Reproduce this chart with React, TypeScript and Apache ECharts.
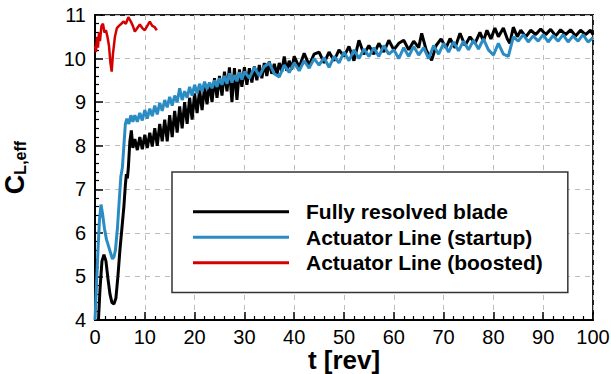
import React, { useEffect, useRef } from "react";
import * as echarts from "echarts";

const seriesNames = ["Fully resolved blade", "Actuator Line (startup)", "Actuator Line (boosted)"];
const seriesColors = ["#000000", "#2b8cc4", "#d40000"];

const xTicks = { min: 0, max: 100, interval: 10 };
const yTicks = { min: 4, max: 11, interval: 1 };

const blackData: [number, number][] = [
  [0.7, 4.0], [1.0, 4.7], [1.4, 5.35], [1.8, 5.5], [2.2, 5.35], [2.6, 4.95], [3.0, 4.6], [3.4, 4.4],
  [3.8, 4.37], [4.2, 4.5], [4.6, 5.0], [5.0, 5.6], [5.4, 6.1], [5.8, 6.6], [6.1, 7.1], [6.3, 7.35],
  [6.5, 7.25], [6.7, 7.5], [7.0, 8.1], [7.3, 8.35], [7.6, 7.95],
  [8.0, 8.15], [8.5, 7.9], [9.0, 8.2], [9.5, 7.92], [10.0, 8.25], [10.5, 7.95], [11.0, 8.3], [11.5, 7.98],
  [12.0, 8.4], [12.5, 8.0], [13.0, 8.5], [13.5, 8.1], [14.0, 8.6], [14.5, 8.1], [15.0, 8.7], [15.5, 8.2],
  [16.0, 8.8], [16.5, 8.3], [17.0, 8.9], [17.5, 8.4], [18.0, 9.0], [18.5, 8.5], [19.0, 9.1], [19.5, 8.6],
  [20.0, 9.2], [20.5, 8.75], [21.0, 9.28], [21.5, 8.82], [22.0, 9.35], [22.5, 8.95], [23.0, 9.45], [23.5, 9.0],
  [24.0, 9.55], [24.5, 9.1], [25.0, 9.6], [25.5, 9.15], [26.0, 9.7], [26.5, 9.25], [27.0, 9.8], [27.5, 9.0],
  [28.0, 9.78], [28.5, 9.05], [29.0, 9.75], [29.5, 9.35], [30.0, 9.8], [30.5, 9.4], [31.0, 9.78], [31.5, 9.45],
  [32.0, 9.82], [32.5, 9.5], [33.0, 9.85], [33.5, 9.55], [34.0, 9.9], [34.5, 9.6], [35.0, 9.93], [35.5, 9.65],
  [36.0, 9.88], [36.5, 9.62], [37.0, 9.9], [37.5, 9.7], [38.0, 10.05], [38.5, 9.72], [39.0, 9.95], [39.5, 9.75],
  [40.0, 10.05], [41.0, 9.8], [42.0, 10.12], [43.0, 9.85], [44.0, 10.1], [45.0, 10.15], [46.0, 9.9], [47.0, 10.15],
  [48.0, 9.95], [49.0, 10.2], [50.0, 10.05], [51.0, 10.28], [52.0, 9.95], [53.0, 10.42], [54.0, 10.1], [55.0, 10.3],
  [56.0, 10.1], [57.0, 10.35], [58.0, 10.15], [59.0, 10.42], [60.0, 10.2], [61.0, 10.35], [62.0, 10.42], [63.0, 10.2],
  [64.0, 10.4], [65.0, 10.25], [65.6, 10.58], [66.5, 10.2], [67.6, 9.96], [68.5, 10.3], [69.5, 10.45], [70.5, 10.25],
  [71.3, 10.46], [72.3, 10.25], [73.3, 10.58], [74.3, 10.3], [75.3, 10.5], [76.3, 10.35], [77.3, 10.6], [78.0, 10.4],
  [78.7, 10.65], [79.5, 10.45], [80.3, 10.7], [81.0, 10.5], [82.0, 10.7], [82.8, 10.45], [83.3, 10.35], [84.0, 10.72],
  [84.8, 10.5], [85.5, 10.65], [86.5, 10.5], [87.5, 10.65], [88.5, 10.55], [89.5, 10.68], [90.5, 10.55], [91.5, 10.67],
  [92.5, 10.52], [93.5, 10.66], [94.5, 10.55], [95.5, 10.66], [96.5, 10.52], [97.5, 10.65], [98.5, 10.55], [99.5, 10.65],
  [100.0, 10.55],
];

const blueData: [number, number][] = [
  [0.0, 4.0], [0.3, 4.8], [0.6, 5.6], [0.9, 6.3], [1.2, 6.65], [1.5, 6.45], [1.9, 6.1], [2.3, 5.85],
  [2.7, 5.7], [3.1, 5.55], [3.5, 5.4], [3.8, 5.45], [4.1, 5.6], [4.5, 6.1], [4.9, 6.8], [5.2, 7.3],
  [5.5, 7.5], [5.8, 8.0], [6.1, 8.5], [6.4, 8.62], [6.8, 8.5], [7.2, 8.7], [7.6, 8.55],
  [8.0, 8.7], [8.5, 8.55], [9.0, 8.75], [9.5, 8.58], [10.0, 8.82], [10.5, 8.62], [11.0, 8.85], [11.5, 8.68],
  [12.0, 8.92], [12.5, 8.72], [13.0, 8.98], [13.5, 8.8], [14.0, 9.05], [14.5, 8.88], [15.0, 9.12], [15.5, 8.92],
  [16.0, 9.15], [16.5, 9.0], [17.0, 9.32], [17.5, 9.05], [18.0, 9.25], [18.5, 9.1], [19.0, 9.35], [19.5, 9.15],
  [20.0, 9.4], [20.5, 9.2], [21.0, 9.42], [21.5, 9.25], [22.0, 9.47], [22.5, 9.3], [23.0, 9.45], [23.5, 9.32],
  [24.0, 9.5], [24.5, 9.35], [25.0, 9.55], [25.5, 9.4], [26.0, 9.6], [26.5, 9.42], [27.0, 9.66], [27.5, 9.45],
  [28.0, 9.62], [28.5, 9.48], [29.0, 9.68], [29.5, 9.52], [30.0, 9.7],
  [31, 9.55], [32, 9.8], [33, 9.6], [34, 9.82], [35, 9.9], [36, 9.65], [37, 9.58], [38, 9.85], [39, 9.68],
  [40, 9.9], [41, 9.72], [42, 9.95], [43, 9.78], [44, 10.0], [45, 9.85], [46, 10.02], [47, 9.8], [48, 10.05],
  [49, 9.9], [50, 10.15], [51, 9.95], [52, 10.2], [53, 10.0], [54, 10.22], [55, 10.05], [56, 10.25], [57, 10.05],
  [58, 10.3], [59, 10.1], [60, 10.2], [61, 10.0], [62, 10.25], [63, 10.05], [64, 10.28], [65, 10.08], [66, 10.25],
  [67, 10.0], [68, 10.3], [69, 10.1], [70, 10.35], [71, 10.15], [72, 10.38], [73, 10.18], [74, 10.4], [75, 10.2],
  [76, 10.42], [77, 10.22], [78, 10.45], [79, 10.2], [80, 10.08], [81, 10.35], [82, 10.1], [83, 10.05], [84, 10.5],
  [85, 10.4], [86, 10.55], [87, 10.38], [88, 10.52], [89, 10.4], [90, 10.55], [91, 10.38], [92, 10.53], [93, 10.4],
  [94, 10.55], [95, 10.38], [96, 10.52], [97, 10.4], [98, 10.55], [99, 10.38], [100, 10.48],
];

const redData: [number, number][] = [
  [0.0, 10.3], [0.2, 10.15], [0.4, 10.5], [0.6, 10.25], [0.8, 10.6], [1.0, 10.4], [1.3, 10.75], [1.6, 10.8],
  [1.9, 10.6], [2.2, 10.65], [2.5, 10.5], [2.8, 10.3], [3.1, 9.9], [3.35, 9.7], [3.6, 10.1], [4.0, 10.5],
  [4.4, 10.7], [4.8, 10.75], [5.3, 10.8], [5.7, 10.85], [6.2, 10.8], [6.7, 10.95], [7.2, 10.85], [7.6, 10.75],
  [8.0, 10.62], [8.5, 10.7], [9.0, 10.78], [9.5, 10.7], [10.0, 10.65], [10.5, 10.75], [11.0, 10.85], [11.5, 10.75],
  [12.0, 10.72], [12.4, 10.65],
];

const FONT = "'Liberation Sans', Arial, Helvetica, sans-serif";

export default function App() {
  const ref = useRef<HTMLDivElement>(null);
  useEffect(() => {
    if (!ref.current) return;
    const chart = echarts.init(ref.current, undefined, { renderer: "svg" });
    const axisCommon = {
      axisLine: { show: true, onZero: false, lineStyle: { color: "#000", width: 2 } },
      axisTick: { show: true, inside: true, length: 8, lineStyle: { color: "#000", width: 1.5 } },
      minorTick: { show: true, splitNumber: 5, length: 4, lineStyle: { color: "#000", width: 1.2 } },
      splitLine: { show: true, lineStyle: { color: "#bdbdbd", type: [5, 5], width: 1 } },
      axisLabel: { color: "#000", fontSize: 20, fontFamily: FONT, lineHeight: 20 },
      nameMoveOverlap: false,
    };
    chart.setOption({
      animation: false,
      backgroundColor: "#fff",
      grid: {
        left: 95, top: 15, right: 18, bottom: 54, containLabel: false, outerBoundsMode: "none",
        show: true, borderColor: "#222", borderWidth: 2, backgroundColor: "transparent",
      },
      xAxis: {
        type: "value", min: xTicks.min, max: xTicks.max, interval: xTicks.interval,
        ...axisCommon,
        axisLabel: { ...axisCommon.axisLabel, margin: 7 },
        name: "t [rev]", nameLocation: "middle", nameGap: 40,
        nameTextStyle: { color: "#000", fontSize: 26, fontWeight: "bold", fontFamily: FONT, verticalAlign: "middle", lineHeight: 22 },
      },
      yAxis: {
        type: "value", min: yTicks.min, max: yTicks.max, interval: yTicks.interval,
        ...axisCommon,
        axisLabel: { ...axisCommon.axisLabel, margin: 9 },
        name: "{c|C}{s|L,eff}", nameLocation: "middle", nameRotate: 90, nameGap: 67,
        nameTextStyle: {
          color: "#000", fontFamily: FONT, fontWeight: "bold",
          rich: {
            c: { fontSize: 27, fontWeight: "bold", fontFamily: FONT, color: "#000", lineHeight: 27, verticalAlign: "top" },
            s: { fontSize: 16, fontWeight: "bold", fontFamily: FONT, color: "#000", lineHeight: 16, verticalAlign: "bottom", padding: [15, 0, 0, 0] },
          },
        },
      },
      legend: {
        show: true, orient: "vertical", left: 172, top: 172,
        padding: [27, 25, 17, 21], itemGap: 0,
        itemWidth: 96, itemHeight: 3, icon: "rect",
        backgroundColor: "#fff", borderColor: "#333", borderWidth: 1.5,
        textStyle: { color: "#000", fontSize: 21, fontWeight: "bold", fontFamily: FONT, lineHeight: 25.5, padding: [0, 0, 0, 12] },
        data: seriesNames,
      },
      series: [
        { name: seriesNames[0], type: "line", data: blackData, symbol: "none", lineStyle: { color: seriesColors[0], width: 3 }, itemStyle: { color: seriesColors[0] } },
        { name: seriesNames[1], type: "line", data: blueData, symbol: "none", lineStyle: { color: seriesColors[1], width: 3 }, itemStyle: { color: seriesColors[1] } },
        { name: seriesNames[2], type: "line", data: redData, symbol: "none", lineStyle: { color: seriesColors[2], width: 2.5 }, itemStyle: { color: seriesColors[2] } },
      ],
    });
    return () => chart.dispose();
  }, []);
  return <div ref={ref} style={{ width: 611, height: 374, position: "absolute", left: 0, top: 0 }} />;
}
